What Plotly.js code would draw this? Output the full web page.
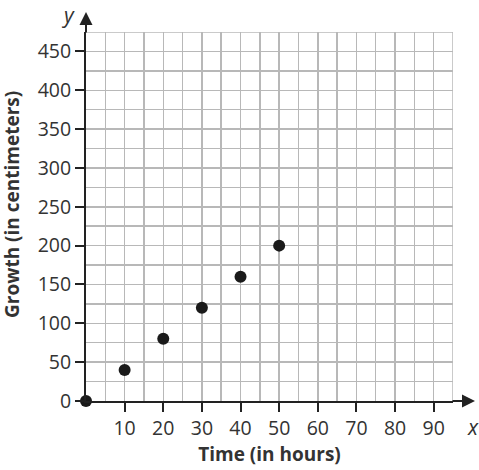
<!DOCTYPE html>
<html><head><meta charset="utf-8">
<script src="https://cdn.plot.ly/plotly-3.0.1.min.js"></script>
<style>html,body{margin:0;padding:0;background:#fff}#chart{width:479px;height:470px}</style>
</head><body><div id="chart"></div>
<script>
const timeHours = [0, 10, 20, 30, 40, 50];
const growthCm = [0, 40, 80, 120, 160, 200];
const xTickVals = [10, 20, 30, 40, 50, 60, 70, 80, 90];
const yTickVals = [0, 50, 100, 150, 200, 250, 300, 350, 400, 450];
const xTitle = 'Time (in hours)';
const yTitle = 'Growth (in centimeters)';

const tickFont = {family: 'Open Sans, sans-serif', size: 19.5, color: '#333'};
const titleFont = {family: 'Open Sans, sans-serif', size: 19, color: '#333'};
const gridColor = '#b8b8b8';

const trace = {
  x: timeHours, y: growthCm, type: 'scatter', mode: 'markers',
  marker: {color: '#1a1a1a', size: 12},
  cliponaxis: false, hoverinfo: 'skip'
};

const layout = {
  width: 479, height: 470,
  margin: {l: 86, r: 26, t: 32, b: 69},
  paper_bgcolor: '#fff', plot_bgcolor: '#fff',
  showlegend: false,
  font: tickFont,
  xaxis: {
    range: [0, 95], tickmode: 'array', tickvals: xTickVals,
    ticks: 'outside', ticklen: 9, tickwidth: 2, tickcolor: '#222',
    showline: true, linecolor: '#222', linewidth: 2,
    showgrid: true, gridcolor: gridColor, gridwidth: 1.5,
    minor: {dtick: 5, tick0: 0, showgrid: true, gridcolor: gridColor, gridwidth: 1.5, ticks: ''},
    zeroline: false, fixedrange: true,
    tickfont: tickFont,
    title: {text: '<b>' + xTitle + '</b>', font: titleFont, standoff: 6}
  },
  yaxis: {
    range: [0, 475], tickmode: 'array', tickvals: yTickVals,
    ticks: 'outside', ticklen: 9, tickwidth: 2, tickcolor: '#222',
    showline: true, linecolor: '#222', linewidth: 2,
    showgrid: true, gridcolor: gridColor, gridwidth: 1.5,
    minor: {dtick: 25, tick0: 0, showgrid: true, gridcolor: gridColor, gridwidth: 1.5, ticks: ''},
    zeroline: false, fixedrange: true,
    tickfont: tickFont
  },
  shapes: [
    {type: 'line', xref: 'x', yref: 'paper', x0: 95, x1: 95, y0: 0, y1: 1, line: {color: gridColor, width: 1.5}, layer: 'below'},
    {type: 'line', xref: 'paper', yref: 'y', x0: 0, x1: 1, y0: 475, y1: 475, line: {color: gridColor, width: 1.5}, layer: 'below'}
  ],
  annotations: [
    {xref: 'x', yref: 'paper', x: 0, y: 1 + 20/369, ax: 0, ay: 22, axref: 'pixel', ayref: 'pixel',
     showarrow: true, arrowhead: 2, arrowsize: 1.3, arrowwidth: 2, arrowcolor: '#222', text: ''},
    {xref: 'paper', yref: 'y', x: 1 + 22/367, y: 0, ax: -24, ay: 0,
     showarrow: true, arrowhead: 2, arrowsize: 1.3, arrowwidth: 2, arrowcolor: '#222', text: ''},
    {xref: 'paper', yref: 'paper', x: -18/367, y: 1 + 17/369, xanchor: 'center', yanchor: 'middle',
     showarrow: false, text: '<i>y</i>', font: {family: 'Open Sans, sans-serif', size: 21, color: '#333'}},
    {xref: 'paper', yref: 'paper', x: 1 + 20/367, y: -10/369, xanchor: 'center', yanchor: 'top',
     showarrow: false, text: '<i>x</i>', font: {family: 'Open Sans, sans-serif', size: 21, color: '#333'}},
    {xref: 'paper', yref: 'paper', x: -74/367, y: 196/369, xanchor: 'center', yanchor: 'middle',
     textangle: -90, showarrow: false, text: '<b>' + yTitle + '</b>', font: titleFont}
  ]
};

Plotly.newPlot('chart', [trace], layout, {staticPlot: true, displayModeBar: false});
</script>
</body></html>
